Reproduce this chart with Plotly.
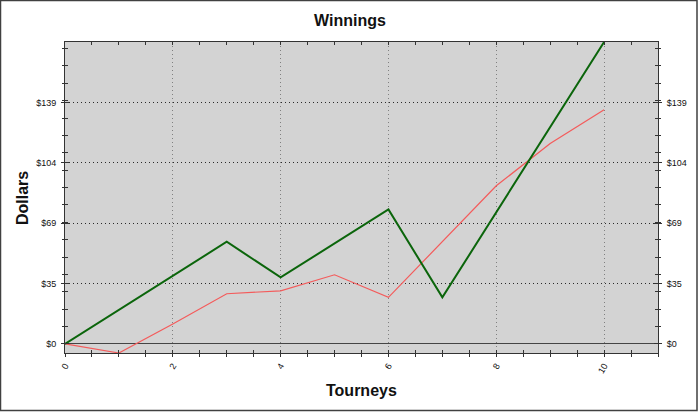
import plotly.graph_objects as go

# Tourney index and the two series
tourneys = [0, 1, 2, 3, 4, 5, 6, 7, 8, 9, 10]
winnings_green = [0, 19.6, 39.2, 58.8, 38.3, 58.0, 77.4, 26.8, 75.8, 124.8, 173.75]
winnings_red = [0, -5.2, 11.5, 28.9, 30.6, 39.8, 26.8, 59.0, 91.0, 115.3, 134.8]

y_tickvals = [0, 34.75, 69.5, 104.25, 139]
y_ticktext = ["$0", "$35", "$69", "$104", "$139"]
x_tickvals = [0, 2, 4, 6, 8, 10]

FONT = "Liberation Sans, Arial, sans-serif"
AXIS_COLOR = "#333333"

# plot area in pixels
W, H = 700, 412
L, R, T, B = 65, 42, 42, 59
PW, PH = W - L - R, H - T - B


def px_x(px):
    return (px - L) / PW


def px_y(py):
    return (H - B - py) / PH


fig = go.Figure()

fig.add_trace(go.Scatter(
    x=tourneys, y=winnings_red, mode="lines",
    line=dict(color="#f45b5b", width=1.2), showlegend=False,
))
fig.add_trace(go.Scatter(
    x=tourneys, y=winnings_green, mode="lines",
    line=dict(color="#0b650b", width=2), showlegend=False,
))
# empty traces so the extra tick-only axes get drawn
fig.add_trace(go.Scatter(x=[], y=[], xaxis="x2", yaxis="y2", showlegend=False))
fig.add_trace(go.Scatter(x=[], y=[], xaxis="x", yaxis="y3", showlegend=False))

y_range = [-5.2, 173.75]
x_range = [0, 11]

common_y = dict(range=y_range, tickvals=y_tickvals, ticktext=y_ticktext,
                tickfont=dict(family=FONT, size=9, color="#111"),
                tickcolor=AXIS_COLOR, fixedrange=True)

fig.update_layout(
    width=W, height=H,
    margin=dict(l=L, r=R, t=T, b=B),
    paper_bgcolor="white",
    plot_bgcolor="#d3d3d3",
    title=dict(text="<b>Winnings</b>", x=0.5, xref="container", xanchor="center",
               y=1 - 20 / H, yref="container", yanchor="middle",
               font=dict(family=FONT, size=16, color="#111")),
    xaxis=dict(
        range=x_range, tickvals=x_tickvals, tickangle=-60,
        tickfont=dict(family=FONT, size=9, color="#111"),
        ticks="outside", ticklen=3, tickcolor=AXIS_COLOR,
        minor=dict(tickmode="linear", tick0=0, dtick=0.5, ticks="outside",
                   ticklen=3, tickcolor=AXIS_COLOR, showgrid=False),
        showline=True, linecolor=AXIS_COLOR, linewidth=1, mirror=True,
        showgrid=True, gridcolor="#808080", griddash="1px,3px", gridwidth=1,
        zeroline=False,
    ),
    xaxis2=dict(
        range=x_range, overlaying="x", anchor="y", side="bottom",
        tickvals=x_tickvals, showticklabels=False,
        ticks="inside", ticklen=3, tickcolor=AXIS_COLOR, mirror="ticks",
        minor=dict(tickmode="linear", tick0=0, dtick=0.5, ticks="inside",
                   ticklen=3, tickcolor=AXIS_COLOR, showgrid=False),
        showgrid=False, zeroline=False, showline=False,
    ),
    yaxis=dict(
        **common_y, side="left",
        ticks="outside", ticklen=3,
        minor=dict(tickmode="linear", tick0=0, dtick=10, ticks="outside",
                   ticklen=2, tickcolor=AXIS_COLOR, showgrid=False),
        showline=True, linecolor=AXIS_COLOR, linewidth=1, mirror=True,
        showgrid=True, gridcolor="#2a2a2a", griddash="1px,3px", gridwidth=1,
        zeroline=True, zerolinecolor="#444444", zerolinewidth=1,
        ticklabelstandoff=3,
    ),
    yaxis2=dict(
        **common_y, overlaying="y", side="right", anchor="x2",
        ticks="outside", ticklen=3,
        minor=dict(tickmode="linear", tick0=0, dtick=10, ticks="outside",
                   ticklen=2, tickcolor=AXIS_COLOR, showgrid=False),
        showgrid=False, zeroline=False, showline=False,
        ticklabelstandoff=3,
    ),
    yaxis3=dict(
        range=y_range, tickvals=y_tickvals, overlaying="y", side="left",
        showticklabels=False, ticks="inside", ticklen=4, tickcolor=AXIS_COLOR,
        mirror="ticks",
        minor=dict(tickmode="linear", tick0=0, dtick=10, ticks="inside",
                   ticklen=3, tickcolor=AXIS_COLOR, showgrid=False),
        showgrid=False, zeroline=False, showline=False,
    ),
    annotations=[
        dict(text="<b>Dollars</b>", xref="paper", yref="paper",
             x=px_x(22), y=px_y(198), textangle=-90, showarrow=False,
             xanchor="center", yanchor="middle",
             font=dict(family=FONT, size=16, color="#111")),
        dict(text="<b>Tourneys</b>", xref="paper", yref="paper",
             x=px_x(361), y=px_y(390), showarrow=False,
             xanchor="center", yanchor="middle",
             font=dict(family=FONT, size=16, color="#111")),
    ],
    shapes=[
        dict(type="rect", xref="paper", yref="paper",
             x0=px_x(0.5), x1=px_x(697), y0=px_y(410.5), y1=px_y(0.5),
             line=dict(color="#404040", width=1.5), layer="above"),
    ],
)

# the page's default 8px body margin would shift the figure off the window
fig.write_html(
    "out.html",
    config={"displayModeBar": False},
    post_script="document.body.style.margin='0';document.body.style.overflow='hidden';",
)
